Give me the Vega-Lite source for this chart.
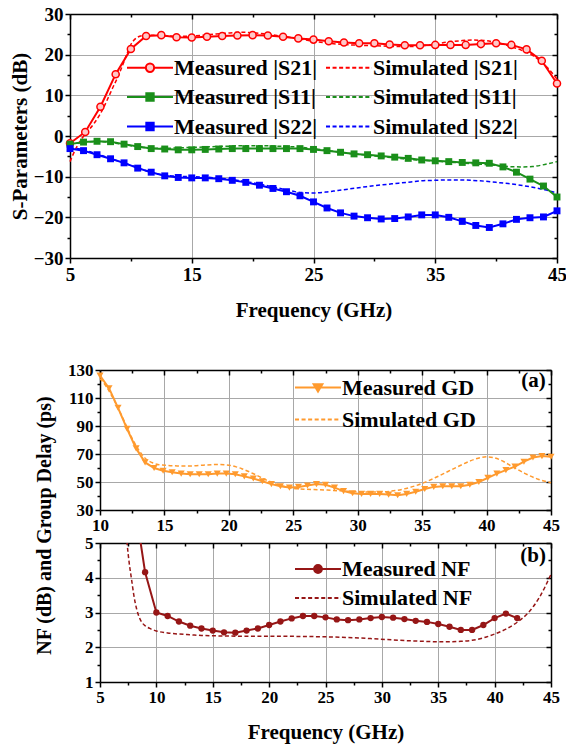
{
  "$schema": "https://vega.github.io/schema/vega-lite/v6.json",
  "padding": {"left": 8, "top": 5, "right": 5, "bottom": 5},
  "config": {
    "view": {"stroke": null},
    "font": "Liberation Serif",
    "axis": {
      "domainColor": "black", "domainWidth": 1.5, "tickColor": "black", "tickWidth": 1.5,
      "labelFont": "Liberation Serif", "labelFontWeight": "bold", "labelColor": "black", "labelPadding": 2, "labelFlush": false,
      "titleFont": "Liberation Serif", "titleFontWeight": "bold", "titleFontSize": 21, "titleColor": "black",
      "gridColor": "#a8a8a8", "gridWidth": 1
    },
    "legend": {"labelFont": "Liberation Serif", "labelFontWeight": "bold", "labelColor": "black"},
    "text": {"font": "Liberation Serif"}
  },
  "datasets": {
    "s21m": [{"f":5,"v":-1.8},{"f":6.25,"v":1.0},{"f":7.5,"v":7.2},{"f":8.75,"v":15.2},{"f":10,"v":21.4},{"f":11.25,"v":24.6},{"f":12.5,"v":24.8},{"f":13.75,"v":24.3},{"f":15,"v":24.2},{"f":16.25,"v":24.4},{"f":17.5,"v":24.6},{"f":18.75,"v":24.7},{"f":20,"v":24.8},{"f":21.25,"v":24.7},{"f":22.5,"v":24.4},{"f":23.75,"v":24.0},{"f":25,"v":23.7},{"f":26.25,"v":23.3},{"f":27.5,"v":23.0},{"f":28.75,"v":22.8},{"f":30,"v":22.8},{"f":31.25,"v":22.5},{"f":32.5,"v":22.3},{"f":33.75,"v":22.3},{"f":35,"v":22.4},{"f":36.25,"v":22.4},{"f":37.5,"v":22.4},{"f":38.75,"v":22.6},{"f":40,"v":22.8},{"f":41.25,"v":22.4},{"f":42.5,"v":21.3},{"f":43.75,"v":18.5},{"f":45,"v":12.9}],
    "s21s": [{"f":5,"v":-6.3},{"f":5.5,"v":-3.0},{"f":6,"v":-0.5},{"f":6.5,"v":1.3},{"f":7,"v":3.2},{"f":7.5,"v":5.5},{"f":8,"v":8.5},{"f":8.5,"v":11.8},{"f":9,"v":15.0},{"f":9.5,"v":18.8},{"f":10,"v":22.5},{"f":10.5,"v":24.2},{"f":11,"v":24.7},{"f":12,"v":24.8},{"f":13,"v":24.6},{"f":14,"v":24.5},{"f":15,"v":24.6},{"f":16,"v":24.8},{"f":17,"v":25.1},{"f":18,"v":25.3},{"f":19,"v":25.5},{"f":20,"v":25.4},{"f":21,"v":25.1},{"f":22,"v":24.7},{"f":23,"v":24.3},{"f":24,"v":23.8},{"f":25,"v":23.3},{"f":26,"v":22.9},{"f":27,"v":22.6},{"f":28,"v":22.4},{"f":29,"v":22.3},{"f":30,"v":22.2},{"f":31,"v":22.1},{"f":32,"v":22.0},{"f":33,"v":22.0},{"f":34,"v":22.2},{"f":35,"v":22.6},{"f":36,"v":23.1},{"f":37,"v":23.4},{"f":38,"v":23.6},{"f":39,"v":23.5},{"f":40,"v":23.0},{"f":41,"v":22.2},{"f":42,"v":21.2},{"f":43,"v":19.8},{"f":44,"v":17.5},{"f":45,"v":14.0}],
    "s11m": [{"f":5,"v":-2.0},{"f":6.11,"v":-1.5},{"f":7.22,"v":-1.3},{"f":8.33,"v":-1.4},{"f":9.44,"v":-2.0},{"f":10.56,"v":-2.6},{"f":11.67,"v":-3.1},{"f":12.78,"v":-3.2},{"f":13.89,"v":-3.4},{"f":15,"v":-3.4},{"f":16.11,"v":-3.3},{"f":17.22,"v":-3.2},{"f":18.33,"v":-3.1},{"f":19.44,"v":-3.1},{"f":20.56,"v":-3.1},{"f":21.67,"v":-3.1},{"f":22.78,"v":-3.1},{"f":23.89,"v":-3.1},{"f":25,"v":-3.3},{"f":26.11,"v":-3.6},{"f":27.22,"v":-4.0},{"f":28.33,"v":-4.4},{"f":29.44,"v":-4.6},{"f":30.56,"v":-4.9},{"f":31.67,"v":-5.2},{"f":32.78,"v":-5.5},{"f":33.89,"v":-5.9},{"f":35,"v":-6.1},{"f":36.11,"v":-6.3},{"f":37.22,"v":-6.5},{"f":38.33,"v":-6.6},{"f":39.44,"v":-6.7},{"f":40.56,"v":-7.6},{"f":41.67,"v":-8.9},{"f":42.78,"v":-10.6},{"f":43.89,"v":-12.3},{"f":45,"v":-15.0}],
    "s11s": [{"f":5,"v":-2.0},{"f":6,"v":-1.6},{"f":7,"v":-1.4},{"f":8,"v":-1.5},{"f":9,"v":-1.9},{"f":10,"v":-2.4},{"f":11,"v":-2.8},{"f":12,"v":-3.0},{"f":13,"v":-3.0},{"f":14,"v":-2.9},{"f":15,"v":-2.8},{"f":16,"v":-2.7},{"f":17,"v":-2.6},{"f":18,"v":-2.5},{"f":19,"v":-2.4},{"f":20,"v":-2.4},{"f":21,"v":-2.4},{"f":22,"v":-2.5},{"f":23,"v":-2.6},{"f":24,"v":-2.8},{"f":25,"v":-3.1},{"f":26,"v":-3.5},{"f":27,"v":-3.9},{"f":28,"v":-4.3},{"f":29,"v":-4.6},{"f":30,"v":-4.9},{"f":31,"v":-5.2},{"f":32,"v":-5.5},{"f":33,"v":-5.8},{"f":34,"v":-6.0},{"f":35,"v":-6.2},{"f":36,"v":-6.4},{"f":37,"v":-6.6},{"f":38,"v":-6.8},{"f":39,"v":-7.0},{"f":40,"v":-7.2},{"f":41,"v":-7.5},{"f":42,"v":-7.6},{"f":43,"v":-7.5},{"f":44,"v":-7.0},{"f":45,"v":-6.3}],
    "s22m": [{"f":5,"v":-3.1},{"f":6.11,"v":-3.6},{"f":7.22,"v":-4.6},{"f":8.33,"v":-5.6},{"f":9.44,"v":-6.6},{"f":10.56,"v":-7.9},{"f":11.67,"v":-8.9},{"f":12.78,"v":-9.8},{"f":13.89,"v":-10.2},{"f":15,"v":-10.3},{"f":16.11,"v":-10.3},{"f":17.22,"v":-10.5},{"f":18.33,"v":-10.9},{"f":19.44,"v":-11.4},{"f":20.56,"v":-12.1},{"f":21.67,"v":-12.9},{"f":22.78,"v":-13.7},{"f":23.89,"v":-14.7},{"f":25,"v":-16.2},{"f":26.11,"v":-17.7},{"f":27.22,"v":-18.9},{"f":28.33,"v":-19.7},{"f":29.44,"v":-20.1},{"f":30.56,"v":-20.4},{"f":31.67,"v":-20.3},{"f":32.78,"v":-19.9},{"f":33.89,"v":-19.4},{"f":35,"v":-19.4},{"f":36.11,"v":-20.0},{"f":37.22,"v":-21.0},{"f":38.33,"v":-22.0},{"f":39.44,"v":-22.5},{"f":40.56,"v":-21.6},{"f":41.67,"v":-20.5},{"f":42.78,"v":-20.1},{"f":43.89,"v":-19.9},{"f":45,"v":-18.4}],
    "s22s": [{"f":5,"v":-3.0},{"f":6,"v":-3.3},{"f":7,"v":-4.2},{"f":8,"v":-5.2},{"f":9,"v":-6.2},{"f":10,"v":-7.2},{"f":11,"v":-8.3},{"f":12,"v":-9.2},{"f":13,"v":-9.7},{"f":14,"v":-9.9},{"f":15,"v":-10.0},{"f":16,"v":-10.1},{"f":17,"v":-10.3},{"f":18,"v":-10.6},{"f":19,"v":-11.0},{"f":20,"v":-11.5},{"f":21,"v":-12.1},{"f":22,"v":-12.7},{"f":23,"v":-13.4},{"f":24,"v":-13.9},{"f":25,"v":-14.0},{"f":26,"v":-13.8},{"f":27,"v":-13.4},{"f":28,"v":-13.0},{"f":29,"v":-12.6},{"f":30,"v":-12.2},{"f":31,"v":-11.9},{"f":32,"v":-11.6},{"f":33,"v":-11.3},{"f":34,"v":-11.0},{"f":35,"v":-10.9},{"f":36,"v":-10.8},{"f":37,"v":-10.8},{"f":38,"v":-10.9},{"f":39,"v":-11.1},{"f":40,"v":-11.4},{"f":41,"v":-11.7},{"f":42,"v":-12.1},{"f":43,"v":-12.6},{"f":44,"v":-13.2},{"f":45,"v":-14.0}],
    "gdm": [{"f":10,"v":126},{"f":10.7,"v":117},{"f":11.4,"v":103},{"f":12.1,"v":88},{"f":12.8,"v":74},{"f":13.5,"v":64},{"f":14.2,"v":60},{"f":14.9,"v":58},{"f":15.6,"v":57},{"f":16.3,"v":56},{"f":17,"v":55.5},{"f":17.7,"v":55.5},{"f":18.4,"v":55.5},{"f":19.1,"v":56},{"f":19.8,"v":56},{"f":20.5,"v":55.5},{"f":21.2,"v":54},{"f":21.9,"v":52.5},{"f":22.6,"v":50.5},{"f":23.3,"v":48.5},{"f":24,"v":47},{"f":24.7,"v":46},{"f":25.4,"v":46.5},{"f":26.1,"v":47.5},{"f":26.8,"v":48.5},{"f":27.5,"v":48},{"f":28.2,"v":46},{"f":28.9,"v":43.5},{"f":29.6,"v":42},{"f":30.3,"v":41.5},{"f":31,"v":41.5},{"f":31.7,"v":41.5},{"f":32.4,"v":41},{"f":33.1,"v":40.5},{"f":33.8,"v":41.5},{"f":34.5,"v":43},{"f":35.2,"v":45},{"f":35.9,"v":46.5},{"f":36.6,"v":47},{"f":37.3,"v":47},{"f":38,"v":47},{"f":38.7,"v":48},{"f":39.4,"v":50},{"f":40.1,"v":53},{"f":40.8,"v":56},{"f":41.5,"v":58.5},{"f":42.2,"v":61},{"f":42.9,"v":64.5},{"f":43.6,"v":67.5},{"f":44.3,"v":68.5},{"f":45,"v":68}],
    "gds": [{"f":10,"v":124},{"f":10.5,"v":118},{"f":11,"v":110},{"f":11.5,"v":101},{"f":12,"v":91},{"f":12.5,"v":81},{"f":13,"v":73},{"f":13.5,"v":67},{"f":14,"v":64},{"f":14.5,"v":62.5},{"f":15,"v":62},{"f":16,"v":61.5},{"f":17,"v":61.5},{"f":18,"v":62},{"f":19,"v":62.5},{"f":20,"v":62},{"f":20.5,"v":61},{"f":21,"v":59.5},{"f":22,"v":55.5},{"f":23,"v":51},{"f":24,"v":47.5},{"f":25,"v":45.5},{"f":26,"v":44.8},{"f":27,"v":44.5},{"f":28,"v":44},{"f":29,"v":43.5},{"f":30,"v":43},{"f":31,"v":42.8},{"f":32,"v":43},{"f":33,"v":44},{"f":34,"v":46},{"f":35,"v":49},{"f":36,"v":53},{"f":37,"v":57.5},{"f":38,"v":62},{"f":39,"v":66},{"f":40,"v":68},{"f":40.5,"v":67.5},{"f":41,"v":66},{"f":42,"v":61},{"f":43,"v":56},{"f":44,"v":52},{"f":45,"v":49.5}],
    "nfm": [{"f":8,"v":6.3},{"f":9,"v":4.16},{"f":10,"v":3.0},{"f":11,"v":2.9},{"f":12,"v":2.74},{"f":13,"v":2.62},{"f":14,"v":2.54},{"f":15,"v":2.48},{"f":16,"v":2.43},{"f":17,"v":2.42},{"f":18,"v":2.48},{"f":19,"v":2.54},{"f":20,"v":2.64},{"f":21,"v":2.74},{"f":22,"v":2.83},{"f":23,"v":2.9},{"f":24,"v":2.9},{"f":25,"v":2.86},{"f":26,"v":2.8},{"f":27,"v":2.78},{"f":28,"v":2.8},{"f":29,"v":2.84},{"f":30,"v":2.87},{"f":31,"v":2.85},{"f":32,"v":2.81},{"f":33,"v":2.76},{"f":34,"v":2.73},{"f":35,"v":2.67},{"f":36,"v":2.59},{"f":37,"v":2.5},{"f":38,"v":2.5},{"f":39,"v":2.64},{"f":40,"v":2.84},{"f":41,"v":2.97},{"f":42,"v":2.84}],
    "nfs": [{"f":7.2,"v":5.8},{"f":7.4,"v":5.0},{"f":7.6,"v":4.4},{"f":7.8,"v":3.95},{"f":8,"v":3.5},{"f":8.25,"v":3.1},{"f":8.5,"v":2.85},{"f":8.75,"v":2.7},{"f":9,"v":2.62},{"f":9.5,"v":2.53},{"f":10,"v":2.47},{"f":11,"v":2.41},{"f":12,"v":2.38},{"f":13,"v":2.36},{"f":14,"v":2.34},{"f":15,"v":2.33},{"f":17,"v":2.32},{"f":20,"v":2.32},{"f":23,"v":2.31},{"f":25,"v":2.3},{"f":27,"v":2.28},{"f":29,"v":2.25},{"f":31,"v":2.21},{"f":33,"v":2.18},{"f":35,"v":2.16},{"f":36,"v":2.16},{"f":37,"v":2.17},{"f":38,"v":2.2},{"f":39,"v":2.27},{"f":40,"v":2.38},{"f":41,"v":2.52},{"f":42,"v":2.72},{"f":43,"v":3.0},{"f":44,"v":3.45},{"f":45,"v":4.1}],
    "tags": [{"panel": "a", "tag": "(a)"}, {"panel": "b", "tag": "(b)"}]
  },
  "resolve": {"scale": {"shape": "independent", "fill": "independent", "stroke": "independent"}, "legend": {"shape": "independent", "fill": "independent", "stroke": "independent"}},
  "spacing": 41,
  "vconcat": [
    {
      "width": 457, "height": 244,
      "resolve": {"axis": {"x": "independent", "y": "independent"}},
      "layer": [
        {
          "data": {"name": "s21s"},
          "mark": {"type": "line", "color": "#ff0000", "strokeWidth": 1.5, "strokeDash": [4, 2.5], "interpolate": "monotone"},
          "encoding": {
            "x": {"field": "f", "type": "quantitative",
              "scale": {"domain": [5, 45], "range": [-30, 457], "nice": false, "zero": false},
              "axis": {"orient": "bottom", "values": [5, 10, 15, 20, 25, 30, 35, 40, 45], "format": "d", "labelFlush": false,
                "labelExpr": "datum.value % 10 === 5 ? datum.label : ''", "labelFontSize": 19,
                "labelFont": "Liberation Serif", "labelFontWeight": "bold", "titleFont": "Liberation Serif", "titleFontWeight": "bold",
                "grid": true, "gridOpacity": {"condition": {"test": "datum.value % 10 === 5 && datum.value > 5 && datum.value < 45", "value": 1}, "value": 0},
                "tickSize": {"condition": {"test": "datum.value % 10 === 5", "value": 5}, "value": 3},
                "title": "Frequency (GHz)", "titleY": 52, "titleBaseline": "middle"}},
            "y": {"field": "v", "type": "quantitative",
              "scale": {"domain": [-30, 30], "nice": false, "zero": false},
              "axis": {"orient": "left", "offset": 30, "values": [-30, -25, -20, -15, -10, -5, 0, 5, 10, 15, 20, 25, 30], "format": "d", "labelFlush": false,
                "labelExpr": "datum.value % 10 === 0 ? datum.label : ''", "labelFontSize": 19,
                "labelFont": "Liberation Serif", "labelFontWeight": "bold", "titleFont": "Liberation Serif", "titleFontWeight": "bold",
                "grid": true, "gridOpacity": {"condition": {"test": "datum.value % 10 === 0 && abs(datum.value) < 30", "value": 1}, "value": 0},
                "tickSize": {"condition": {"test": "datum.value % 10 === 0", "value": 5}, "value": 3},
                "title": "S-Parameters (dB)", "titleX": -50, "titleY": 122, "titleBaseline": "middle", "titleAlign": "center"}}
          }
        },
        {
          "data": {"name": "s11s"},
          "mark": {"type": "line", "color": "#1a8f1a", "strokeWidth": 1.5, "strokeDash": [4, 2.5], "interpolate": "monotone"},
          "encoding": {"x": {"field": "f", "type": "quantitative", "axis": null}, "y": {"field": "v", "type": "quantitative", "axis": null}}
        },
        {
          "data": {"name": "s22s"},
          "mark": {"type": "line", "color": "#0000ff", "strokeWidth": 1.5, "strokeDash": [4, 2.5], "interpolate": "monotone"},
          "encoding": {"x": {"field": "f", "type": "quantitative", "axis": null}, "y": {"field": "v", "type": "quantitative", "axis": null}}
        },
        {
          "data": {"name": "s21m"},
          "mark": {"type": "line", "color": "#ff0000", "strokeWidth": 2},
          "encoding": {"x": {"field": "f", "type": "quantitative", "axis": null}, "y": {"field": "v", "type": "quantitative", "axis": null}}
        },
        {
          "data": {"name": "s21m"},
          "mark": {"type": "point", "shape": "circle", "size": 50, "filled": true, "fill": "#ffc8c8", "stroke": "#ff0000", "strokeWidth": 1.5, "opacity": 1},
          "encoding": {"x": {"field": "f", "type": "quantitative", "axis": null}, "y": {"field": "v", "type": "quantitative", "axis": null}}
        },
        {
          "data": {"name": "s11m"},
          "mark": {"type": "line", "color": "#1a8f1a", "strokeWidth": 2},
          "encoding": {"x": {"field": "f", "type": "quantitative", "axis": null}, "y": {"field": "v", "type": "quantitative", "axis": null}}
        },
        {
          "data": {"name": "s11m"},
          "mark": {"type": "point", "shape": "square", "size": 48, "filled": true, "color": "#1a8f1a", "opacity": 1},
          "encoding": {"x": {"field": "f", "type": "quantitative", "axis": null}, "y": {"field": "v", "type": "quantitative", "axis": null}}
        },
        {
          "data": {"name": "s22m"},
          "mark": {"type": "line", "color": "#0000ff", "strokeWidth": 2},
          "encoding": {"x": {"field": "f", "type": "quantitative", "axis": null}, "y": {"field": "v", "type": "quantitative", "axis": null}}
        },
        {
          "data": {"name": "s22m"},
          "mark": {"type": "point", "shape": "square", "size": 48, "filled": true, "color": "#0000ff", "opacity": 1},
          "encoding": {"x": {"field": "f", "type": "quantitative", "axis": null}, "y": {"field": "v", "type": "quantitative", "axis": null}}
        },
        {
          "data": {"values": []},
          "mark": {"type": "point", "opacity": 1, "strokeWidth": 2},
          "encoding": {
            "x": {"field": "f", "type": "quantitative",
              "axis": {"orient": "top", "values": [5, 10, 15, 20, 25, 30, 35, 40, 45], "labels": false, "grid": false, "title": null,
                "tickSize": {"condition": {"test": "datum.value % 10 === 5", "value": -5}, "value": -3}}},
            "y": {"field": "v", "type": "quantitative",
              "axis": {"orient": "right", "values": [-30, -25, -20, -15, -10, -5, 0, 5, 10, 15, 20, 25, 30], "labels": false, "grid": false, "title": null,
                "tickSize": {"condition": {"test": "datum.value % 10 === 0", "value": -5}, "value": -3}}},
            "shape": {"field": "k", "type": "nominal",
              "scale": {"domain": ["Measured |S21|", "Simulated |S21|", "Measured |S11|", "Simulated |S11|", "Measured |S22|", "Simulated |S22|"],
                "range": [
                  "M-1,0H0.64M1.36,0H3M0.64,0A0.36,0.36,0,1,1,1.36,0A0.36,0.36,0,1,1,0.64,0Z",
                  "M-1,0H-0.65M-0.43,0H-0.08M0.14,0H0.49M0.71,0H1.06M1.28,0H1.63M1.85,0H2.2M2.42,0H2.77M2.99,0H3",
                  "M-1,0H3M0.68,-0.32H1.32V0.32H0.68Z",
                  "M-1,0H-0.65M-0.43,0H-0.08M0.14,0H0.49M0.71,0H1.06M1.28,0H1.63M1.85,0H2.2M2.42,0H2.77M2.99,0H3",
                  "M-1,0H3M0.68,-0.32H1.32V0.32H0.68Z",
                  "M-1,0H-0.65M-0.43,0H-0.08M0.14,0H0.49M0.71,0H1.06M1.28,0H1.63M1.85,0H2.2M2.42,0H2.77M2.99,0H3"
                ]},
              "legend": {"orient": "none", "legendX": 26, "legendY": 41, "columns": 2, "direction": "horizontal", "title": null, "labelFontSize": 22, "symbolSize": 529, "symbolStrokeWidth": 2, "labelOffset": 23, "rowPadding": 5.5, "columnPadding": 4, "labelLimit": 400}},
            "fill": {"field": "k", "type": "nominal",
              "scale": {"domain": ["Measured |S21|", "Simulated |S21|", "Measured |S11|", "Simulated |S11|", "Measured |S22|", "Simulated |S22|"],
                "range": ["#ffc8c8", "transparent", "#1a8f1a", "transparent", "#0000ff", "transparent"]},
              "legend": {"orient": "none", "legendX": 26, "legendY": 41, "columns": 2, "direction": "horizontal", "title": null, "labelFontSize": 22, "symbolSize": 529, "symbolStrokeWidth": 2, "labelOffset": 23, "rowPadding": 5.5, "columnPadding": 4, "labelLimit": 400}},
            "stroke": {"field": "k", "type": "nominal",
              "scale": {"domain": ["Measured |S21|", "Simulated |S21|", "Measured |S11|", "Simulated |S11|", "Measured |S22|", "Simulated |S22|"],
                "range": ["#ff0000", "#ff0000", "#1a8f1a", "#1a8f1a", "#0000ff", "#0000ff"]},
              "legend": {"orient": "none", "legendX": 26, "legendY": 41, "columns": 2, "direction": "horizontal", "title": null, "labelFontSize": 22, "symbolSize": 529, "symbolStrokeWidth": 2, "labelOffset": 23, "rowPadding": 5.5, "columnPadding": 4, "labelLimit": 400}}
          }
        }
      ]
    },
    {
      "bounds": "flush",
      "spacing": 33,
      "resolve": {"scale": {"shape": "independent", "fill": "independent", "stroke": "independent"}, "legend": {"shape": "independent", "fill": "independent", "stroke": "independent"}},
      "vconcat": [
        {
          "width": 451, "height": 140,
          "resolve": {"axis": {"x": "independent", "y": "independent"}},
          "layer": [
            {
              "data": {"name": "gds"},
              "mark": {"type": "line", "color": "#ff9a2e", "strokeWidth": 1.5, "strokeDash": [4, 2.5], "interpolate": "monotone"},
              "encoding": {
                "x": {"field": "f", "type": "quantitative",
                  "scale": {"domain": [10, 45], "nice": false, "zero": false},
                  "axis": {"orient": "bottom", "values": [10, 12.5, 15, 17.5, 20, 22.5, 25, 27.5, 30, 32.5, 35, 37.5, 40, 42.5, 45], "format": "d", "labelFlush": false,
                    "labelExpr": "datum.value % 5 === 0 ? datum.label : ''", "labelFontSize": 17,
                    "labelFont": "Liberation Serif", "labelFontWeight": "bold",
                    "grid": true, "gridOpacity": {"condition": {"test": "datum.value % 5 === 0 && datum.value > 10 && datum.value < 45", "value": 1}, "value": 0},
                    "tickSize": {"condition": {"test": "datum.value % 5 === 0", "value": 5}, "value": 3},
                    "title": null}},
                "y": {"field": "v", "type": "quantitative",
                  "scale": {"domain": [30, 130], "nice": false, "zero": false},
                  "axis": {"orient": "left", "values": [30, 40, 50, 60, 70, 80, 90, 100, 110, 120, 130], "format": "d", "labelFlush": false,
                    "labelExpr": "datum.value % 20 === 10 ? datum.label : ''", "labelFontSize": 17,
                    "labelFont": "Liberation Serif", "labelFontWeight": "bold",
                    "grid": true, "gridOpacity": {"condition": {"test": "datum.value % 20 === 10 && datum.value > 30 && datum.value < 130", "value": 1}, "value": 0},
                    "tickSize": {"condition": {"test": "datum.value % 20 === 10", "value": 5}, "value": 3},
                    "title": null}}
              }
            },
            {
              "data": {"name": "gdm"},
              "mark": {"type": "line", "color": "#ff9a2e", "strokeWidth": 2},
              "encoding": {"x": {"field": "f", "type": "quantitative", "axis": null}, "y": {"field": "v", "type": "quantitative", "axis": null}}
            },
            {
              "data": {"name": "gdm"},
              "mark": {"type": "point", "shape": "triangle-down", "size": 50, "filled": true, "color": "#ff9a2e", "opacity": 1},
              "encoding": {"x": {"field": "f", "type": "quantitative", "axis": null}, "y": {"field": "v", "type": "quantitative", "axis": null}}
            },
            {
              "data": {"name": "tags"},
              "transform": [{"filter": "datum.panel === 'a'"}],
              "mark": {"type": "text", "align": "right", "baseline": "middle", "font": "Liberation Serif", "fontWeight": "bold", "fontSize": 21, "color": "black"},
              "encoding": {"text": {"field": "tag"}, "x": {"datum": 44.6, "type": "quantitative", "axis": null}, "y": {"datum": 122, "type": "quantitative", "axis": null}}
            },
            {
              "data": {"values": []},
              "mark": {"type": "point", "opacity": 1, "strokeWidth": 2},
              "encoding": {
                "x": {"field": "f", "type": "quantitative",
                  "axis": {"orient": "top", "values": [10, 12.5, 15, 17.5, 20, 22.5, 25, 27.5, 30, 32.5, 35, 37.5, 40, 42.5, 45], "labels": false, "grid": false, "title": null,
                    "tickSize": {"condition": {"test": "datum.value % 5 === 0", "value": -5}, "value": -3}}},
                "y": {"field": "v", "type": "quantitative",
                  "axis": {"orient": "right", "values": [30, 40, 50, 60, 70, 80, 90, 100, 110, 120, 130], "labels": false, "grid": false, "title": null,
                    "tickSize": {"condition": {"test": "datum.value % 20 === 10", "value": -5}, "value": -3}}},
                "shape": {"field": "k", "type": "nominal",
                  "scale": {"domain": ["Measured GD", "Simulated GD"],
                    "range": ["M-1,0H3M0.62,-0.28H1.38L1,0.36Z", "M-1,0H-0.65M-0.43,0H-0.08M0.14,0H0.49M0.71,0H1.06M1.28,0H1.63M1.85,0H2.2M2.42,0H2.77M2.99,0H3"]},
                  "legend": {"orient": "none", "legendX": 194, "legendY": 5, "title": null, "labelFontSize": 22, "symbolSize": 529, "symbolStrokeWidth": 2, "labelOffset": 23, "rowPadding": 8, "labelLimit": 400}},
                "fill": {"field": "k", "type": "nominal",
                  "scale": {"domain": ["Measured GD", "Simulated GD"], "range": ["#ff9a2e", "transparent"]},
                  "legend": {"orient": "none", "legendX": 194, "legendY": 5, "title": null, "labelFontSize": 22, "symbolSize": 529, "symbolStrokeWidth": 2, "labelOffset": 23, "rowPadding": 8, "labelLimit": 400}},
                "stroke": {"field": "k", "type": "nominal",
                  "scale": {"domain": ["Measured GD", "Simulated GD"], "range": ["#ff9a2e", "#ff9a2e"]},
                  "legend": {"orient": "none", "legendX": 194, "legendY": 5, "title": null, "labelFontSize": 22, "symbolSize": 529, "symbolStrokeWidth": 2, "labelOffset": 23, "rowPadding": 8, "labelLimit": 400}}
              }
            }
          ]
        },
        {
          "width": 451, "height": 139,
          "resolve": {"axis": {"x": "independent", "y": "independent"}},
          "layer": [
            {
              "data": {"name": "nfs"},
              "mark": {"type": "line", "color": "#961616", "strokeWidth": 1.5, "strokeDash": [4, 2.5], "interpolate": "monotone", "clip": true},
              "encoding": {
                "x": {"field": "f", "type": "quantitative",
                  "scale": {"domain": [5, 45], "nice": false, "zero": false},
                  "axis": {"orient": "bottom", "values": [5, 7.5, 10, 12.5, 15, 17.5, 20, 22.5, 25, 27.5, 30, 32.5, 35, 37.5, 40, 42.5, 45], "format": "d", "labelFlush": false,
                    "labelExpr": "datum.value % 5 === 0 ? datum.label : ''", "labelFontSize": 17,
                    "labelFont": "Liberation Serif", "labelFontWeight": "bold", "titleFont": "Liberation Serif", "titleFontWeight": "bold",
                    "grid": true, "gridOpacity": {"condition": {"test": "datum.value % 5 === 0 && datum.value > 5 && datum.value < 45", "value": 1}, "value": 0},
                    "tickSize": {"condition": {"test": "datum.value % 5 === 0", "value": 5}, "value": 3},
                    "title": "Frequency (GHz)", "titleY": 50, "titleBaseline": "middle"}},
                "y": {"field": "v", "type": "quantitative",
                  "scale": {"domain": [1, 5], "nice": false, "zero": false},
                  "axis": {"orient": "left", "values": [1, 1.5, 2, 2.5, 3, 3.5, 4, 4.5, 5], "format": ".0f", "labelFlush": false,
                    "labelExpr": "datum.value % 1 === 0 ? datum.label : ''", "labelFontSize": 17,
                    "labelFont": "Liberation Serif", "labelFontWeight": "bold", "titleFont": "Liberation Serif", "titleFontWeight": "bold",
                    "grid": true, "gridOpacity": {"condition": {"test": "datum.value % 1 === 0 && datum.value > 1 && datum.value < 5", "value": 1}, "value": 0},
                    "tickSize": {"condition": {"test": "datum.value % 1 === 0", "value": 5}, "value": 3},
                    "title": "NF (dB) and Group Delay (ps)", "titleFontSize": 20, "titleX": -56, "titleY": -18, "titleBaseline": "middle", "titleAlign": "center"}}
              }
            },
            {
              "data": {"name": "nfm"},
              "mark": {"type": "line", "color": "#961616", "strokeWidth": 2, "clip": true},
              "encoding": {"x": {"field": "f", "type": "quantitative", "axis": null}, "y": {"field": "v", "type": "quantitative", "axis": null}}
            },
            {
              "data": {"name": "nfm"},
              "mark": {"type": "point", "shape": "circle", "size": 40, "filled": true, "color": "#961616", "opacity": 1, "clip": true},
              "encoding": {"x": {"field": "f", "type": "quantitative", "axis": null}, "y": {"field": "v", "type": "quantitative", "axis": null}}
            },
            {
              "data": {"name": "tags"},
              "transform": [{"filter": "datum.panel === 'b'"}],
              "mark": {"type": "text", "align": "right", "baseline": "middle", "font": "Liberation Serif", "fontWeight": "bold", "fontSize": 21, "color": "black"},
              "encoding": {"text": {"field": "tag"}, "x": {"datum": 44.55, "type": "quantitative", "axis": null}, "y": {"datum": 4.63, "type": "quantitative", "axis": null}}
            },
            {
              "data": {"values": []},
              "mark": {"type": "point", "opacity": 1, "strokeWidth": 2},
              "encoding": {
                "x": {"field": "f", "type": "quantitative",
                  "axis": {"orient": "top", "values": [5, 7.5, 10, 12.5, 15, 17.5, 20, 22.5, 25, 27.5, 30, 32.5, 35, 37.5, 40, 42.5, 45], "labels": false, "grid": false, "title": null,
                    "tickSize": {"condition": {"test": "datum.value % 5 === 0", "value": -5}, "value": -3}}},
                "y": {"field": "v", "type": "quantitative",
                  "axis": {"orient": "right", "values": [1, 1.5, 2, 2.5, 3, 3.5, 4, 4.5, 5], "labels": false, "grid": false, "title": null,
                    "tickSize": {"condition": {"test": "datum.value % 1 === 0", "value": -5}, "value": -3}}},
                "shape": {"field": "k", "type": "nominal",
                  "scale": {"domain": ["Measured NF", "Simulated NF"],
                    "range": ["M-1,0H3M0.66,0A0.34,0.34,0,1,1,1.34,0A0.34,0.34,0,1,1,0.66,0Z", "M-1,0H-0.65M-0.43,0H-0.08M0.14,0H0.49M0.71,0H1.06M1.28,0H1.63M1.85,0H2.2M2.42,0H2.77M2.99,0H3"]},
                  "legend": {"orient": "none", "legendX": 194, "legendY": 13.5, "title": null, "labelFontSize": 22, "symbolSize": 529, "symbolStrokeWidth": 2, "labelOffset": 23, "rowPadding": 5, "labelLimit": 400}},
                "fill": {"field": "k", "type": "nominal",
                  "scale": {"domain": ["Measured NF", "Simulated NF"], "range": ["#961616", "transparent"]},
                  "legend": {"orient": "none", "legendX": 194, "legendY": 13.5, "title": null, "labelFontSize": 22, "symbolSize": 529, "symbolStrokeWidth": 2, "labelOffset": 23, "rowPadding": 5, "labelLimit": 400}},
                "stroke": {"field": "k", "type": "nominal",
                  "scale": {"domain": ["Measured NF", "Simulated NF"], "range": ["#961616", "#961616"]},
                  "legend": {"orient": "none", "legendX": 194, "legendY": 13.5, "title": null, "labelFontSize": 22, "symbolSize": 529, "symbolStrokeWidth": 2, "labelOffset": 23, "rowPadding": 5, "labelLimit": 400}}
              }
            }
          ]
        }
      ]
    }
  ]
}
